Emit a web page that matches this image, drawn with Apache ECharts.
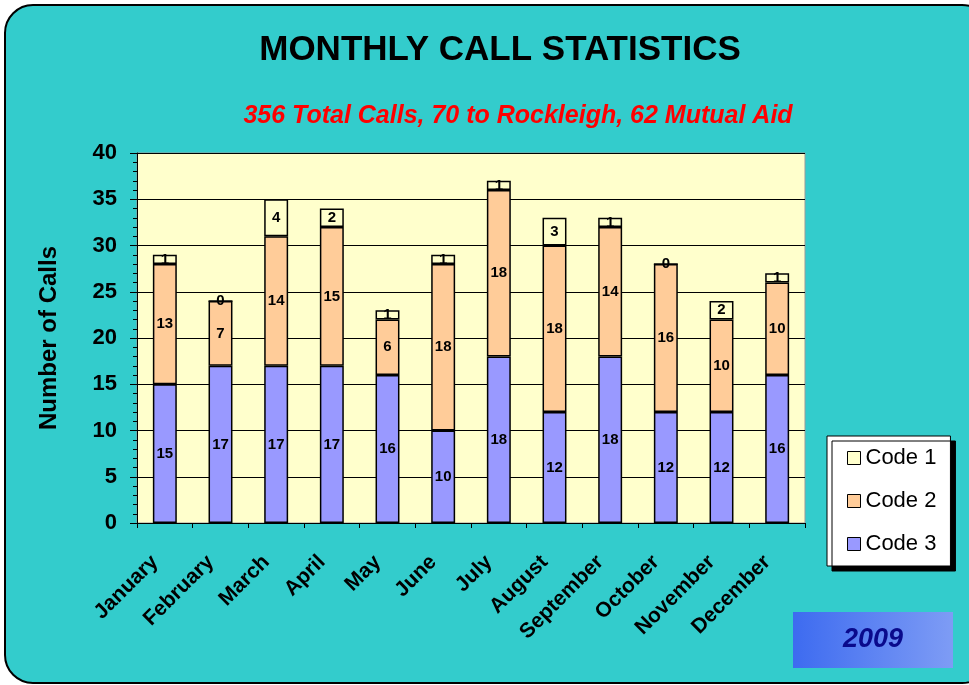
<!DOCTYPE html>
<html>
<head>
<meta charset="utf-8">
<script src="https://cdn.jsdelivr.net/npm/echarts@6/dist/echarts.min.js"></script>
<style>
  html, body { margin: 0; padding: 0; background: #fff; }
  #chart { width: 969px; height: 685px; }
</style>
</head>
<body>
<div id="chart"></div>
<script>
const months = ['January', 'February', 'March', 'April', 'May', 'June', 'July', 'August', 'September', 'October', 'November', 'December']
const code3 = [15, 17, 17, 17, 16, 10, 18, 12, 18, 12, 12, 16]
const code2 = [13, 7, 14, 15, 6, 18, 18, 18, 14, 16, 10, 10]
const code1 = [1, 0, 4, 2, 1, 1, 1, 3, 1, 0, 2, 1]

const font = '"Liberation Sans", Arial, sans-serif'

function barSeries (name, data, color) {
  return {
    name: name,
    type: 'bar',
    stack: 'calls',
    data: data,
    barWidth: '43%',
    itemStyle: { color: color, borderColor: '#000', borderWidth: 1.5 },
    label: {
      show: true,
      position: 'inside',
      color: '#000',
      fontFamily: font,
      fontWeight: 'bold',
      fontSize: 15
    }
  }
}

const chart = echarts.init(document.getElementById('chart'))
chart.setOption({
  animation: false,
  backgroundColor: '#fff',
  textStyle: { fontFamily: font },
  graphic: [
    {
      type: 'rect',
      z: -10,
      shape: { x: 5, y: 5, width: 985, height: 678, r: 28 },
      style: { fill: '#33CCCC', stroke: '#000', lineWidth: 2 }
    },
    {
      type: 'rect',
      z: -5,
      shape: { x: 793, y: 612, width: 160, height: 56 },
      style: {
        fill: new echarts.graphic.LinearGradient(0, 0, 1, 0, [
          { offset: 0, color: '#3d6bf0' },
          { offset: 1, color: '#7e9cf5' }
        ])
      }
    },
    {
      type: 'text',
      z: 10,
      x: 873,
      y: 640,
      style: {
        text: '2009',
        fill: '#0a0a8c',
        font: 'italic bold 27px "Liberation Sans", Arial, sans-serif',
        textAlign: 'center',
        textVerticalAlign: 'middle'
      }
    }
  ],
  title: [
    {
      text: 'MONTHLY CALL STATISTICS',
      left: 495,
      top: 28,
      textAlign: 'center',
      textStyle: { fontFamily: font, fontWeight: 'bold', fontSize: 35, color: '#000' }
    },
    {
      text: '356 Total Calls, 70 to Rockleigh, 62 Mutual Aid',
      left: 513,
      top: 99,
      textAlign: 'center',
      textStyle: { fontFamily: font, fontWeight: 'bold', fontStyle: 'italic', fontSize: 25, color: '#ff0000' }
    }
  ],
  legend: {
    data: ['Code 1', 'Code 2', 'Code 3'],
    orient: 'vertical',
    left: 827,
    top: 436,
    width: 136,
    padding: [11, 14, 11, 20],
    itemGap: 21,
    itemWidth: 13,
    itemHeight: 13,
    backgroundColor: '#fff',
    borderColor: '#000',
    borderWidth: 1,
    shadowColor: '#000',
    shadowOffsetX: 5,
    shadowOffsetY: 5,
    shadowBlur: 0,
    itemStyle: { borderColor: '#000', borderWidth: 1 },
    textStyle: { fontFamily: font, fontSize: 22, color: '#000' },
    icon: 'rect'
  },
  grid: {
    left: 137,
    right: 164,
    top: 153,
    bottom: 162,
    show: true,
    backgroundColor: '#ffffcc',
    borderColor: '#999',
    borderWidth: 1
  },
  xAxis: {
    type: 'category',
    data: months,
    axisLine: { show: true, lineStyle: { color: '#000', width: 1 } },
    axisTick: { show: true, length: 5, lineStyle: { color: '#000' } },
    axisLabel: {
      rotate: 45,
      interval: 0,
      margin: 26,
      padding: [0, 14, 0, 0],
      color: '#000',
      fontFamily: font,
      fontWeight: 'bold',
      fontSize: 21
    }
  },
  yAxis: {
    type: 'value',
    min: 0,
    max: 40,
    interval: 5,
    name: 'Number of Calls',
    nameLocation: 'middle',
    nameGap: 76,
    nameTextStyle: { fontFamily: font, fontWeight: 'bold', fontSize: 24, color: '#000' },
    axisLine: { show: true, lineStyle: { color: '#000', width: 1 } },
    axisTick: { show: true, length: 7, lineStyle: { color: '#000' } },
    minorTick: { show: true, splitNumber: 5, length: 4, lineStyle: { color: '#000' } },
    splitLine: { show: true, lineStyle: { color: '#000', width: 1 } },
    axisLabel: {
      color: '#000',
      fontFamily: font,
      fontWeight: 'bold',
      fontSize: 22,
      margin: 20
    }
  },
  series: [
    barSeries('Code 3', code3, '#9999ff'),
    barSeries('Code 2', code2, '#ffcc99'),
    barSeries('Code 1', code1, '#ffffcc')
  ]
})
</script>
</body>
</html>
